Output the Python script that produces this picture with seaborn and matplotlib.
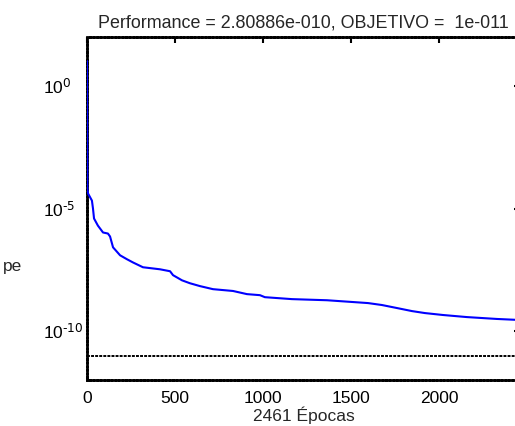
import numpy as np
import pandas as pd
import matplotlib
matplotlib.use("Agg")
import matplotlib.pyplot as plt
import matplotlib.ticker as mticker
import seaborn as sns

# curva de entrenamiento
epocas = [0, 2, 6, 28, 34, 40, 62, 91, 119, 131, 148, 188, 227, 261, 318, 415,
          472, 489, 540, 585, 642, 716, 830, 909, 983, 1011, 1165, 1364, 1597,
          1676, 1767, 1847, 1920, 2023, 2159, 2330, 2461]
performance = [10.5, 6.5e-5, 4.1e-5, 2.1e-5, 1.0e-5, 3.9e-6, 2.0e-6, 1.05e-6,
               9.5e-7, 7.2e-7, 2.6e-7, 1.23e-7, 8.5e-8, 6.3e-8, 4.0e-8, 3.3e-8,
               2.75e-8, 1.9e-8, 1.17e-8, 8.9e-9, 6.8e-9, 5.1e-9, 4.3e-9, 3.2e-9,
               2.9e-9, 2.4e-9, 2.0e-9, 1.8e-9, 1.38e-9, 1.15e-9, 8.5e-10, 6.5e-10,
               5.4e-10, 4.5e-10, 3.7e-10, 3.1e-10, 2.80886e-10]
objetivo = 1e-11
total_epocas = 2461
x_ticks = [0, 500, 1000, 1500, 2000]
y_ticks = [1e0, 1e-5, 1e-10]
y_ticklabels = ["10$^{\\text{0}}$", "10$^{\\text{-5}}$", "10$^{\\text{-10}}$"]

sns.set_style("white")
plt.rcParams['font.family'] = ['Liberation Sans', 'DejaVu Sans']
plt.rcParams['mathtext.default'] = 'regular'
plt.rcParams['axes.unicode_minus'] = False
plt.rcParams['font.size'] = 12.5

data = pd.DataFrame({"epoca": epocas, "perf": performance})

fig = plt.figure(figsize=(5.15, 4.26), dpi=100)
ax = fig.add_axes([87 / 515, 1 - 380 / 426, 433 / 515, 343 / 426])

sns.lineplot(data=data, x="epoca", y="perf", ax=ax, color="#0000ff",
             linewidth=1.5, estimator=None, sort=False, zorder=3)
ax.axhline(objetivo, color="black", linewidth=1.4, linestyle=(0, (1.5, 0.6)))

ax.set_yscale("log")
ax.set_xlim(0, total_epocas)
ax.set_ylim(1e-12, 1e2)
ax.set_xticks(x_ticks)
ax.set_yticks(y_ticks)
ax.set_yticklabels(y_ticklabels, ha="left")
ax.yaxis.set_minor_locator(mticker.NullLocator())
ax.tick_params(direction="in", length=4, width=1.5, top=True, right=True,
               labelsize=12.5, colors="black")
ax.tick_params(axis="x", pad=8)
ax.tick_params(axis="y", pad=31.7)

for sp in ax.spines.values():
    sp.set_linestyle((0, (0.8, 0.5)))
    sp.set_linewidth(2.0)
    sp.set_color("black")

ax.set_title("Performance = 2.80886e-010, OBJETIVO =  1e-011",
             fontsize=12.9, pad=7)
ax.set_xlabel("2461 Épocas", fontsize=12.5, labelpad=0)
ax.set_ylabel("pe", fontsize=12.5, rotation=0, ha="left", va="center")
ax.yaxis.set_label_coords((3 - 87) / 433, (380 - 267) / 343)

fig.savefig("out.png", dpi=100)
